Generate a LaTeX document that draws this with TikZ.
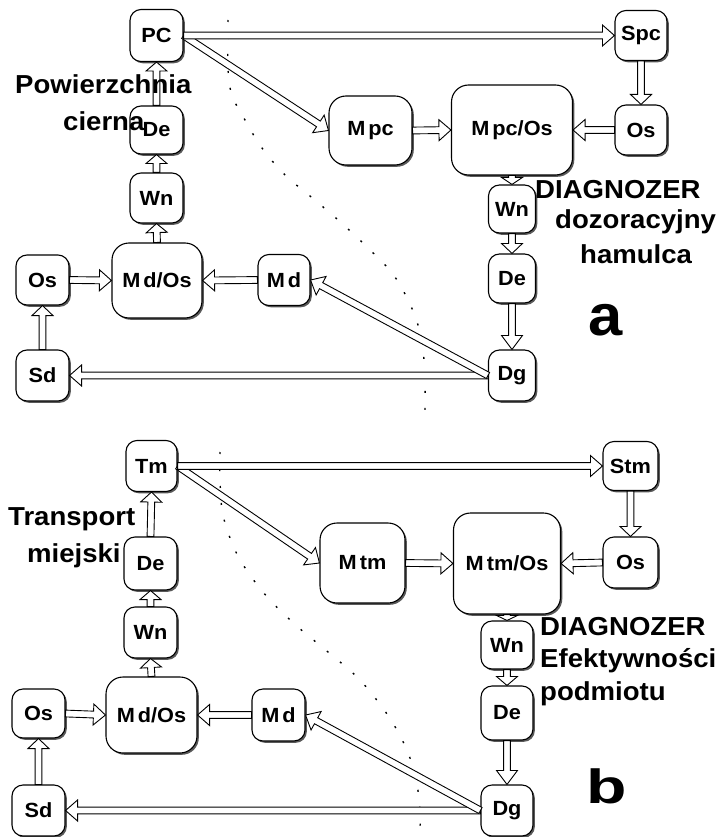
\documentclass[tikz,border=0pt]{standalone}
\usepackage{fontspec}
\setmainfont{Liberation Sans}[FakeStretch=1.06]
\usetikzlibrary{calc,shadows}

\tikzset{
  x=1pt, y=-1pt,
  blk/.style={draw=black, line width=1.1pt, fill=white, rounded corners=11pt,
    inner sep=0pt, font=\fontsize{20.5}{22}\selectfont\bfseries,
    drop shadow={shadow xshift=1.8pt, shadow yshift=-1.8pt, fill=black!65, opacity=1}},
  big/.style={blk, rounded corners=17pt},
  arr/.style={draw=black, line width=0.9pt, fill=white, line join=miter},
  lbl/.style={inner sep=0pt, anchor=base west, font=\fontsize{26}{30}\selectfont\bfseries},
  tag/.style={inner sep=0pt, anchor=base west, font=\fontsize{58}{60}\selectfont\bfseries},
  trail/.style={line width=1.4pt, dash pattern=on 2pt off 15pt, black},
}

% hollow block arrow from #2 to #3, optional head length #1
\newcommand\blockarrow[3][12pt]{%
  \coordinate (hb) at ($(#3)!#1!(#2)$);
  \path[arr] ($(#2)!3.4pt!90:(#3)$) -- ($(hb)!3.4pt!90:(#3)$)
    -- ($(hb)!10.5pt!90:(#3)$) -- (#3) -- ($(hb)!10.5pt!-90:(#3)$)
    -- ($(hb)!3.4pt!-90:(#3)$) -- ($(#2)!3.4pt!-90:(#3)$) -- cycle;
}

\begin{document}
\begin{tikzpicture}
\fill[white] (0,0) rectangle (721,837);
\useasboundingbox (0,0) rectangle (721,837);

% ---------- part a ----------
\draw[trail] plot[smooth, tension=0.6] coordinates {(228,20) (228,68) (232,95) (245,120) (262,148) (285,175) (310,196) (337,219) (365,245) (392,273) (408,300) (418,325) (423,350) (425,380) (425,410)};

\node[blk, minimum width=53pt, minimum height=52pt] (PCa) at (156.5,35.5) {PC};
\node[blk, minimum width=52pt, minimum height=50pt] (Spca) at (641,35.5) {Spc};
\node[big, minimum width=83pt, minimum height=69pt] (Mpca) at (370.5,130.5) {M\kern3pt pc};
\node[big, minimum width=121pt, minimum height=90pt] (MpcOsa) at (512,130) {M\kern3pt pc/Os};
\node[blk, minimum width=52pt, minimum height=50pt] (Osra) at (641,130) {Os};
\node[blk, minimum width=53pt, minimum height=48pt] (Dela) at (156.5,130) {De};
\node[blk, minimum width=53pt, minimum height=50pt] (Wnla) at (156.5,198) {Wn};
\node[big, minimum width=90pt, minimum height=75pt] (MdOsa) at (157,280.5) {M\kern3pt d/Os};
\node[blk, minimum width=53pt, minimum height=50pt] (Osla) at (42.5,280) {Os};
\node[blk, minimum width=52pt, minimum height=51pt] (Mda) at (284,280) {M\kern3pt d};
\node[blk, minimum width=53pt, minimum height=51pt] (Sda) at (42.5,375.5) {Sd};
\node[blk, minimum width=47pt, minimum height=48pt] (Wnra) at (512,209) {Wn};
\node[blk, minimum width=47pt, minimum height=49pt] (Dera) at (512,278.5) {De};
\node[blk, minimum width=47pt, minimum height=51pt] (Dga) at (512,375.5) {Dg};

\blockarrow{PCa.east}{Mpca.west}
\blockarrow{PCa.east}{Spca.west}
\blockarrow{Mpca.east}{MpcOsa.west}
\blockarrow{Osra.west}{MpcOsa.east}
\blockarrow[10pt]{Spca.south}{Osra.north}
\blockarrow[7pt]{MpcOsa.south}{Wnra.north}
\blockarrow[10pt]{Wnra.south}{Dera.north}
\blockarrow[14pt]{Dera.south}{Dga.north}
\blockarrow{Dga.west}{Sda.east}
\blockarrow{Dga.west}{Mda.east}
\blockarrow{Mda.west}{MdOsa.east}
\blockarrow{Osla.east}{MdOsa.west}
\blockarrow[10pt]{Sda.north}{Osla.south}
\blockarrow[9pt]{MdOsa.north}{Wnla.south}
\blockarrow[9pt]{Wnla.north}{Dela.south}
\blockarrow[9pt]{Dela.north}{PCa.south}

\node[lbl] (powA) at (15,94) {Powierzchnia};
\node[lbl] (cierA) at (63,131) {cierna};
\node[lbl] (diagA) at (535,198) {DIAGNOZER};
\node[lbl] (dozA) at (555,228) {dozoracyjny};
\node[lbl] (hamA) at (580,263) {hamulca};
\node[tag] (tagA) at (588,335) {a};

% ---------- part b ----------
\draw[trail] plot[smooth, tension=0.6] coordinates {(220,452) (220,480) (223,515) (235,550) (250,575) (270,600) (298,627) (328,652) (358,678) (382,707) (398,732) (410,758) (417,785) (420,810) (420,835)};

\node[blk, minimum width=51pt, minimum height=51pt] (Tmb) at (151.5,466) {Tm};
\node[blk, minimum width=55pt, minimum height=49pt] (Stmb) at (630.5,466) {Stm};
\node[big, minimum width=85pt, minimum height=80pt] (Mtmb) at (362.5,563) {M\kern3pt tm};
\node[big, minimum width=107pt, minimum height=101pt] (MtmOsb) at (507,563.5) {M\kern3pt tm/Os};
\node[blk, minimum width=55pt, minimum height=51pt] (Osrb) at (630.5,562.5) {Os};
\node[blk, minimum width=53pt, minimum height=53pt] (Delb) at (150.5,563.5) {De};
\node[blk, minimum width=53pt, minimum height=51pt] (Wnlb) at (150.5,632.5) {Wn};
\node[big, minimum width=91pt, minimum height=76pt] (MdOsb) at (151.5,715) {M\kern3pt d/Os};
\node[blk, minimum width=53pt, minimum height=49pt] (Oslb) at (38.5,713.5) {Os};
\node[blk, minimum width=53pt, minimum height=52pt] (Mdb) at (278.5,715) {M\kern3pt d};
\node[blk, minimum width=53pt, minimum height=51pt] (Sdb) at (38.5,810.5) {Sd};
\node[blk, minimum width=52pt, minimum height=48pt] (Wnrb) at (507,645) {Wn};
\node[blk, minimum width=52pt, minimum height=54pt] (Derb) at (507,713) {De};
\node[blk, minimum width=52pt, minimum height=51pt] (Dgb) at (507,810.5) {Dg};

\blockarrow{Tmb.east}{Mtmb.west}
\blockarrow{Tmb.east}{Stmb.west}
\blockarrow{Mtmb.east}{MtmOsb.west}
\blockarrow{Osrb.west}{MtmOsb.east}
\blockarrow[10pt]{Stmb.south}{Osrb.north}
\blockarrow[5pt]{MtmOsb.south}{Wnrb.north}
\blockarrow[9pt]{Wnrb.south}{Derb.north}
\blockarrow[14pt]{Derb.south}{Dgb.north}
\blockarrow{Dgb.west}{Sdb.east}
\blockarrow{Dgb.west}{Mdb.east}
\blockarrow{Mdb.west}{MdOsb.east}
\blockarrow{Oslb.east}{MdOsb.west}
\blockarrow[10pt]{Sdb.north}{Oslb.south}
\blockarrow[9pt]{MdOsb.north}{Wnlb.south}
\blockarrow[9pt]{Wnlb.north}{Delb.south}
\blockarrow[10pt]{Delb.north}{Tmb.south}

\node[lbl] (transB) at (8,525) {Transport};
\node[lbl] (miejB) at (27,562) {miejski};
\node[lbl] (diagB) at (540,635) {DIAGNOZER};
\node[lbl] (efekB) at (540,667) {Efektywności};
\node[lbl] (podB) at (540,700) {podmiotu};
\node[tag, font=\fontsize{48}{50}\selectfont\bfseries] (tagB) at (586,803) {\scalebox{1.3}[1]{b}};
\end{tikzpicture}
\end{document}
